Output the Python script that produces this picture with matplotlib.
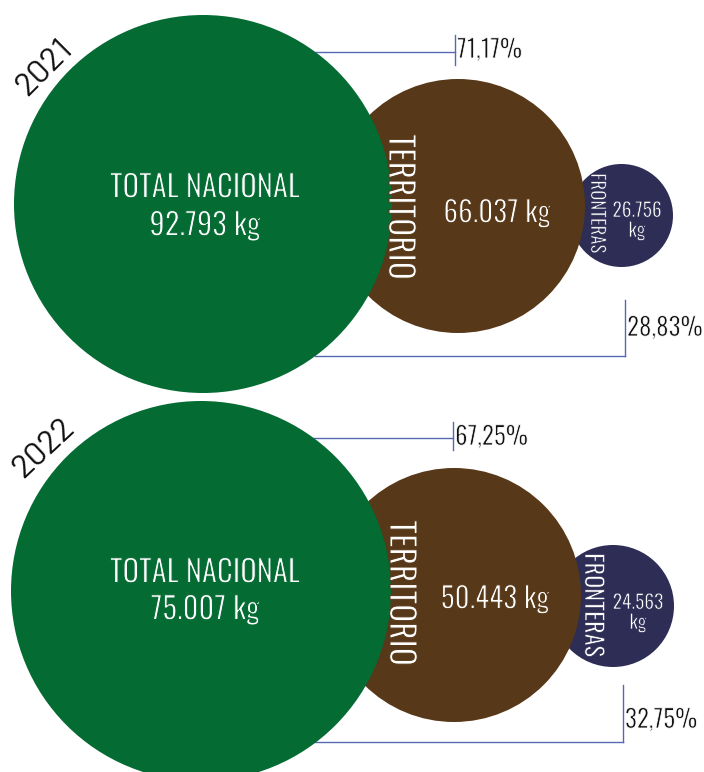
import matplotlib
matplotlib.use("Agg")
import matplotlib.pyplot as plt
from matplotlib.patches import Circle
from matplotlib import font_manager
import matplotlib.patheffects as pe

# ---------------- data ----------------
years = ["2021", "2022"]
total_kg = [92793, 75007]
territorio_kg = [66037, 50443]
fronteras_kg = [26756, 24563]
pct_territorio = [71.17, 67.25]
pct_fronteras = [28.83, 32.75]
label_total = "TOTAL NACIONAL"
label_territorio = "TERRITORIO"
label_fronteras = "FRONTERAS"

# ---------------- layout (pixels) ----------------
green_c = [(203, 204), (201, 591)]
green_r = [189, 190]
brown_c = [(458, 206), (454, 595)]
brown_r = [127, 127]
navy_c = [(621.5, 215.5), (613, 606)]
navy_r = [51.5, 61]

total_lbl_xy = [(205, 188), (205, 573)]
total_val_xy = [(205, 226), (205, 610)]
terr_lbl_xy = [(400, 207), (401, 593)]
terr_val_xy = [(497, 213), (495, 599)]
fron_lbl_xy = [(597, 213), (592.5, 605)]
fron_lbl_size = [13.5, 17.5]
fron_val_xy = [(637, 220), (638, 612)]
year_xy = [(45, 68), (44, 449)]
year_rot = [45, 43]

top_line_y = [52, 438]
top_line_x = [(315, 455), (313, 453)]
top_tick_y = [(35, 65), (422, 450)]
top_txt_y = [50, 437]
bot_line_y = [356, 742]
bot_line_x = [(315, 625), (313, 623)]
bot_tick_y = [(300, 356), (685, 742)]
bot_txt_y = [328, 720]

GREEN = "#046b33"
BROWN = "#573818"
NAVY = "#2e2d55"
LINE = "#5468b4"

# fonts
avail = {f.name for f in font_manager.fontManager.ttflist}


def pick(*cands):
    for c in cands:
        if c in avail:
            return c
    return "DejaVu Sans"


COND = pick("Oswald", "Barlow Condensed")
S = 1.0 if COND == "Oswald" else 1.12
YEARF = pick("Barlow", "DejaVu Sans")


def thin(bg, lw=0.75):
    # outline glyphs in the background colour to get a lighter weight
    return [pe.Stroke(linewidth=lw, foreground=bg)]


def kg(v):
    return f"{v:,}".replace(",", ".")


def pct(p):
    return f"{p:.2f}".replace(".", ",") + "%"


fig = plt.figure(figsize=(7.04, 7.72), dpi=100)
ax = fig.add_axes([0, 0, 1, 1])
ax.set_xlim(0, 704)
ax.set_ylim(772, 0)
ax.axis("off")

for i, yr in enumerate(years):
    # connector lines
    x0, x1 = top_line_x[i]
    ax.plot([x0, x1], [top_line_y[i]] * 2, color=LINE, lw=1.0, zorder=1)
    ax.plot([x1, x1], top_tick_y[i], color=LINE, lw=1.0, zorder=1)
    ax.text(x1 + 2, top_txt_y[i], pct(pct_territorio[i]), fontsize=18 * S,
            family=COND, color="#111111", ha="left", va="center", zorder=5,
            path_effects=thin("white", 0.6))
    bx0, bx1 = bot_line_x[i]
    ax.plot([bx0, bx1], [bot_line_y[i]] * 2, color=LINE, lw=1.0, zorder=1)
    ax.plot([bx1, bx1], bot_tick_y[i], color=LINE, lw=1.0, zorder=1)
    ax.text(bx1 + 2, bot_txt_y[i], pct(pct_fronteras[i]), fontsize=18 * S,
            family=COND, color="#111111", ha="left", va="center", zorder=5,
            path_effects=thin("white", 0.6))

    # circles
    ax.add_patch(Circle(navy_c[i], navy_r[i], facecolor=NAVY, edgecolor="none", zorder=2))
    ax.add_patch(Circle(brown_c[i], brown_r[i], facecolor=BROWN, edgecolor="none", zorder=3))
    ax.add_patch(Circle(green_c[i], green_r[i], facecolor=GREEN, edgecolor="none", zorder=4))

    # texts
    ax.text(*total_lbl_xy[i], label_total, fontsize=22 * S, family=COND,
            color="white", ha="center", va="center", zorder=6, path_effects=thin(GREEN))
    ax.text(*total_val_xy[i], f"{kg(total_kg[i])} kg", fontsize=22 * S, family=COND,
            color="white", ha="center", va="center", zorder=6, path_effects=thin(GREEN))
    ax.text(*terr_lbl_xy[i], label_territorio, fontsize=24 * S, family=COND,
            color="white", ha="center", va="center", rotation=-90, zorder=6,
            path_effects=thin(BROWN))
    ax.text(*terr_val_xy[i], f"{kg(territorio_kg[i])} kg", fontsize=21 * S, family=COND,
            color="white", ha="center", va="center", zorder=6, path_effects=thin(BROWN))
    ax.text(*fron_lbl_xy[i], label_fronteras, fontsize=fron_lbl_size[i] * S, family=COND,
            color="white", ha="center", va="center", rotation=-90, zorder=6,
            path_effects=thin(NAVY, 0.5))
    ax.text(*fron_val_xy[i], f"{kg(fronteras_kg[i])}\nkg", fontsize=14 * S, family=COND,
            color="white", ha="center", va="center", linespacing=1.0, zorder=6,
            path_effects=thin(NAVY, 0.5))
    ax.text(*year_xy[i], yr, fontsize=24, family=YEARF, weight="normal", color="#111111",
            ha="center", va="center", rotation=year_rot[i], rotation_mode="anchor",
            zorder=6)

fig.savefig("out.png", dpi=100, facecolor="white")
